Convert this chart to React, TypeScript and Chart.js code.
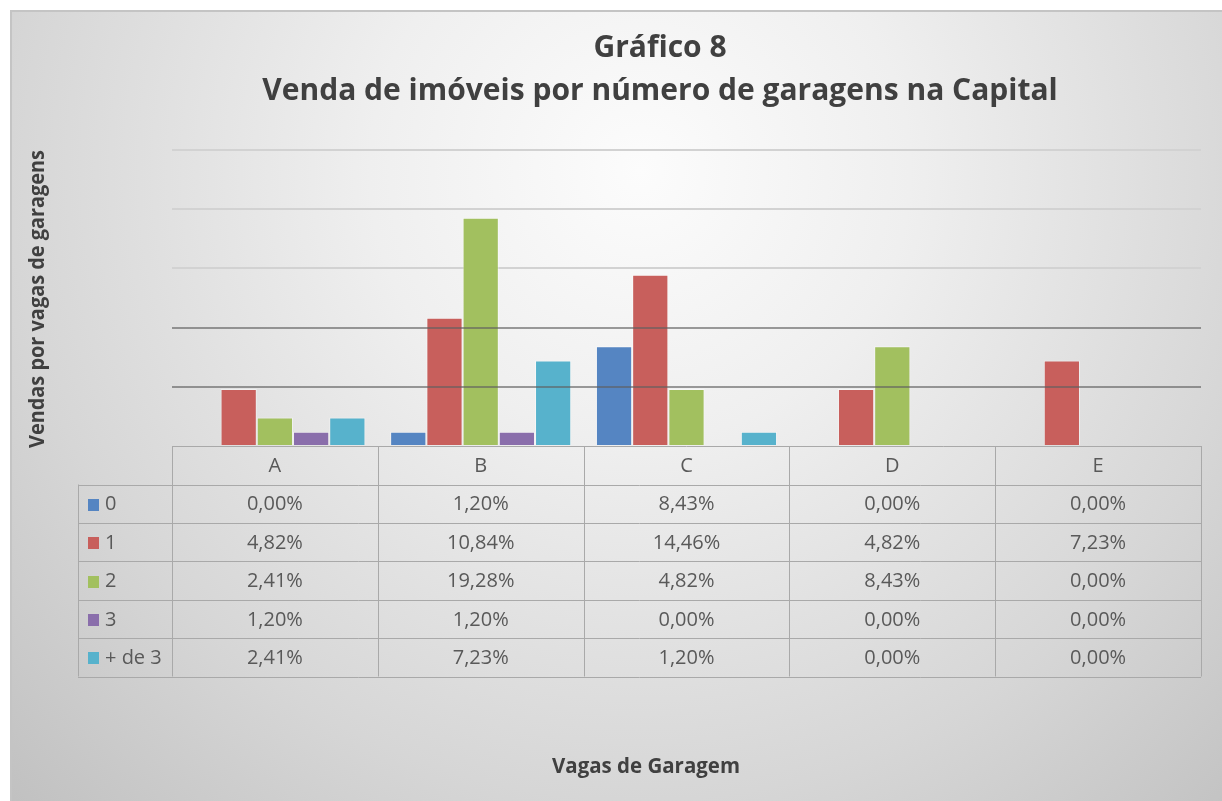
import { useEffect, useRef } from 'react';
import { Chart, registerables } from 'chart.js';

Chart.register(...registerables);

const FONT = '"Open Sans", "DejaVu Sans", sans-serif';

// ---- data ----
const categories = ['A', 'B', 'C', 'D', 'E'];
const seriesNames = ['0', '1', '2', '3', '+ de 3'];
const vagas0 = [0, 1.2, 8.43, 0, 0];
const vagas1 = [4.82, 10.84, 14.46, 4.82, 7.23];
const vagas2 = [2.41, 19.28, 4.82, 8.43, 0];
const vagas3 = [1.2, 1.2, 0, 0, 0];
const vagasMais3 = [2.41, 7.23, 1.2, 0, 0];
const seriesValues = [vagas0, vagas1, vagas2, vagas3, vagasMais3];

const yMin = 0;
const yMax = 25;
const yStep = 5;
const overlayGridValues = [5, 10];

const titleLines = ['Gráfico 8', 'Venda de imóveis por número de garagens na Capital'];
const yTitle = 'Vendas por vagas de garagens';
const xTitle = 'Vagas de Garagem';

// ---- style ----
const seriesColors = ['#5585C2', '#C85F5C', '#A2C05F', '#8A6EAB', '#57B2CC'];
const TEXT_DARK = '#404040';
const TEXT_TABLE = '#595959';

const fmt = (v: number) => v.toFixed(2).replace('.', ',') + '%';

const decorPlugin = {
  id: 'decor',
  beforeDraw(chart: any) {
    const { ctx, width, height } = chart;
    ctx.save();
    ctx.fillStyle = '#ffffff';
    ctx.fillRect(0, 0, width, height);
    const g = ctx.createRadialGradient(640, 170, 0, 640, 170, 900);
    g.addColorStop(0, '#fcfcfc');
    g.addColorStop(0.3, '#efefef');
    g.addColorStop(0.7, '#d6d6d6');
    g.addColorStop(1, '#c0c0c0');
    ctx.fillStyle = g;
    ctx.fillRect(10, 10, width - 10, height - 10);
    ctx.fillStyle = '#c4c4c4';
    ctx.fillRect(10, 10, width - 10, 2);
    ctx.fillRect(10, 10, 2, height - 10);
    ctx.restore();
  },
  afterDatasetsDraw(chart: any) {
    const { ctx, chartArea } = chart;
    const y = chart.scales.y;
    ctx.save();
    ctx.strokeStyle = 'rgba(95,95,95,0.62)';
    ctx.lineWidth = 2;
    overlayGridValues.forEach((v) => {
      const py = Math.round(y.getPixelForValue(v));
      ctx.beginPath();
      ctx.moveTo(chartArea.left, py);
      ctx.lineTo(chartArea.right, py);
      ctx.stroke();
    });
    ctx.restore();
  },
  afterDraw(chart: any) {
    const { ctx, chartArea } = chart;
    const x = chart.scales.x;
    ctx.save();

    // titles
    ctx.fillStyle = TEXT_DARK;
    ctx.textAlign = 'center';
    ctx.textBaseline = 'alphabetic';
    ctx.font = `bold 30px ${FONT}`;
    ctx.fillText(titleLines[0], 660, 57, 140);
    ctx.fillText(titleLines[1], 660, 100, 820);

    // axis titles
    ctx.font = `bold 22px ${FONT}`;
    ctx.textBaseline = 'middle';
    ctx.fillText(xTitle, 646, 767, 188);
    ctx.save();
    ctx.translate(38, 299);
    ctx.rotate(-Math.PI / 2);
    ctx.fillText(yTitle, 0, 0, 298);
    ctx.restore();

    // data table
    const n = categories.length;
    const colW = (chartArea.right - chartArea.left) / n;
    const top = chartArea.bottom;
    const headerH = 38.5;
    const rowH = 38.4;
    const labelLeft = 78;
    const bottom = top + headerH + seriesNames.length * rowH;
    const px = (v: number) => Math.round(v) + 0.5;

    ctx.strokeStyle = '#a9a9a9';
    ctx.lineWidth = 1;
    ctx.beginPath();
    ctx.moveTo(chartArea.left, px(top));
    ctx.lineTo(chartArea.right, px(top));
    for (let i = 0; i <= seriesNames.length; i++) {
      const yy = px(top + headerH + i * rowH);
      ctx.moveTo(labelLeft, yy);
      ctx.lineTo(chartArea.right, yy);
    }
    for (let i = 0; i <= n; i++) {
      const xx = px(chartArea.left + i * colW);
      ctx.moveTo(xx, top);
      ctx.lineTo(xx, bottom);
    }
    ctx.moveTo(px(labelLeft), top + headerH);
    ctx.lineTo(px(labelLeft), bottom);
    ctx.stroke();

    ctx.font = `20px ${FONT}`;
    ctx.fillStyle = TEXT_TABLE;
    ctx.textAlign = 'center';
    ctx.textBaseline = 'middle';
    categories.forEach((c, i) => {
      ctx.fillText(c, x.getPixelForValue(i), top + headerH / 2 + 1);
    });
    seriesNames.forEach((name, r) => {
      const cy = top + headerH + r * rowH + rowH / 2 + 1;
      seriesValues[r].forEach((v, i) => {
        ctx.fillStyle = TEXT_TABLE;
        ctx.textAlign = 'center';
        ctx.fillText(fmt(v), x.getPixelForValue(i), cy);
      });
      ctx.fillStyle = seriesColors[r];
      ctx.fillRect(88, Math.round(cy - 6), 11, 12);
      ctx.fillStyle = TEXT_TABLE;
      ctx.textAlign = 'left';
      ctx.fillText(name, 105, cy);
    });

    ctx.restore();
  },
};

export default function App() {
  const canvasRef = useRef<HTMLCanvasElement | null>(null);

  useEffect(() => {
    if (!canvasRef.current) return;
    const chart = new Chart(canvasRef.current, {
      type: 'bar',
      data: {
        labels: categories,
        datasets: seriesNames.map((name, i) => ({
          label: name,
          data: seriesValues[i],
          backgroundColor: seriesColors[i],
          borderColor: 'rgba(255,255,255,0.45)',
          borderWidth: 1,
          categoryPercentage: 0.88,
          barPercentage: 1,
        })),
      },
      options: {
        responsive: false,
        animation: false,
        events: [],
        layout: { padding: { left: 172, right: 21, top: 150, bottom: 355 } },
        plugins: {
          legend: { display: false },
          title: { display: false },
          tooltip: { enabled: false },
        },
        scales: {
          x: { display: false },
          y: {
            min: yMin,
            max: yMax,
            ticks: { stepSize: yStep, display: false },
            border: { display: false },
            grid: {
              drawTicks: false,
              lineWidth: 2,
              color: (c: any) =>
                c.tick && (c.tick.value === 0 || overlayGridValues.includes(c.tick.value))
                  ? 'rgba(0,0,0,0)'
                  : '#d2d2d2',
            },
            afterFit: (s: any) => {
              s.width = 0;
            },
          },
        },
      },
      plugins: [decorPlugin],
    });
    return () => chart.destroy();
  }, []);

  return (
    <div style={{ position: 'absolute', left: 0, top: 0, width: 1222, height: 801 }}>
      <canvas ref={canvasRef} width={1222} height={801} style={{ display: 'block' }} />
    </div>
  );
}
